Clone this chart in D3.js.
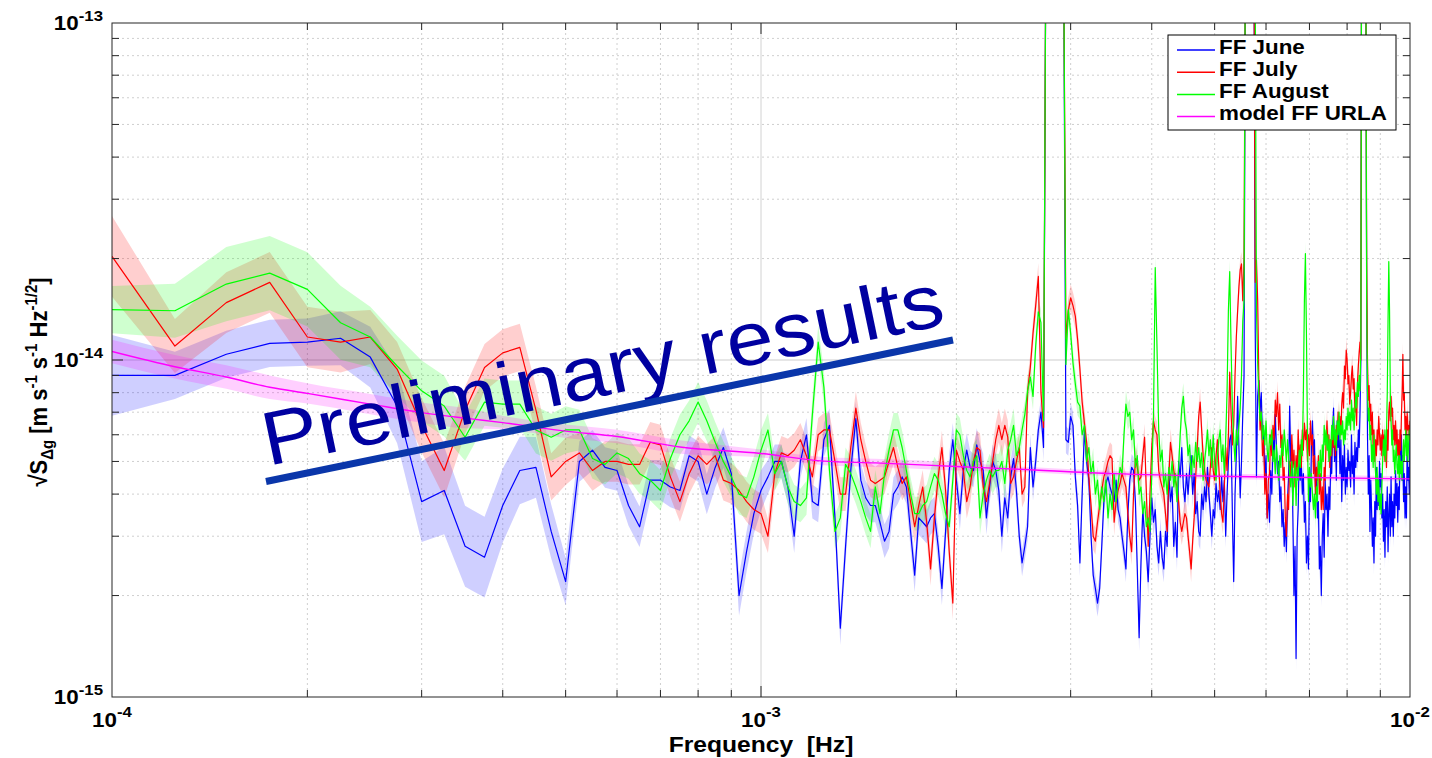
<!DOCTYPE html>
<html>
<head>
<meta charset="utf-8">
<script src="https://cdn.jsdelivr.net/npm/d3@7"></script>
<style>
  body { margin: 0; background: #fff; }
  svg { display: block; }
  text { font-family: "Liberation Sans", Arial, Helvetica, sans-serif; }
</style>
</head>
<body>
<svg id="chart" width="1432" height="758"></svg>
<script>
// Frequency grid: bins k * 25 µHz, k = 4 … 400
const binWidth = 2.5e-5;
const firstBin = 4, lastBin = 400;
const asdUnit = 1e-16; // series below are in units of 1e-16 m s^-2 Hz^-1/2

const juneASD = [
  90,90,104,112,113,116,102,73,38,41,
  28,26,37,47,48,31,22,50,54,48,
  47,37,32,44,44,42,41,52,50,40,
  48,55,46,20,27,35,41,45,50,50,
  42,30,50,60,38,37,58,64,34,16,
  28,47,67,44,39,37,37,33,29,31,
  40,42,45,42,31,23,34,33,32,34,
  35,28,21,31,47,58,44,35,47,54,
  48,47,56,50,47,34,42,50,47,41,
  30,39,34,45,51,41,30,25,28,32,
  55,42,50,62,70,55,2500,6000,9000,12000,
  10000,8000,5000,2000,58,57,68,64,45,37,
  25,40,62,50,44,30,23,21,19,21,
  28,38,43,45,42,40,38,44,36,34,
  30,27,24,35,44,48,47,38,24,15,
  25,36,30,27,22,30,39,33,36,28,
  25,31,26,24,31,28,46,38,42,28,
  33,26,50,45,55,42,38,46,40,47,
  52,40,46,35,38,31,30,40,36,42,
  38,48,40,35,30,36,34,43,38,41,
  36,45,38,44,30,40,50,58,60,35,
  22,40,52,78,55,39,50,69,90,1500,
  4000,8000,9000,7000,5000,3000,1500,120,45,78,
  87,70,80,58,62,45,52,34,40,33,
  47,40,59,52,69,55,46,50,38,42,
  32,36,28,33,27,38,45,73,50,56,
  34,20,28,13,30,36,52,44,50,40,
  46,33,38,25,30,24,44,38,56,66,
  52,58,42,48,34,38,24,28,20,30,
  35,26,44,36,40,30,42,36,52,46,
  62,72,50,60,44,66,55,62,46,58,
  38,52,44,56,40,48,42,54,47,50,
  42,60,46,52,40,57,48,55,50,62,
  55,70,100,3000,8000,9000,7000,4000,1500,150,
  60,40,52,31,44,36,28,34,25,38,
  30,48,36,44,37,50,42,46,34,40,
  29,36,26,38,32,42,27,35,40,30,
  45,32,38,30,40,34,47,37,43,33,
  42,36,56,48,60,44,52,38,46,34,
  42,34,56,44,48,40,58
];

const julyASD = [
  203,110,148,170,117,113,117,94,64,47,
  71,95,105,109,71,45,50,53,47,50,
  50,49,49,57,56,45,38,46,52,49,
  52,44,43,41,38,36,35,30,46,53,
  52,54,58,52,45,60,62,62,50,40,
  40,55,72,58,50,44,43,44,45,50,
  55,48,43,45,38,32,37,42,33,24,
  34,45,55,41,27,19,54,50,47,38,
  42,50,55,54,42,38,43,50,58,64,
  58,64,59,43,45,50,55,40,42,81,
  95,120,145,177,80,63,2500,6000,9000,12000,
  10000,8000,5000,2000,116,140,153,145,135,115,
  94,75,65,57,45,37,30,29,33,37,
  41,45,47,50,52,51,33,38,41,43,
  46,44,42,35,30,27,40,51,48,44,
  45,52,59,40,28,40,55,66,62,60,
  47,44,42,40,35,31,45,57,52,47,
  44,42,38,33,31,33,35,34,30,27,
  24,29,34,45,55,68,75,62,52,47,
  44,43,42,48,55,47,44,52,58,48,
  40,35,33,42,55,47,60,92,70,56,
  64,90,117,140,165,185,193,150,200,1500,
  4000,8000,9000,7000,5000,3000,1500,170,198,150,
  86,62,70,52,58,40,46,34,44,46,
  60,52,64,58,76,68,80,62,74,55,
  60,44,48,34,30,40,36,50,44,60,
  48,54,42,52,46,62,50,56,48,62,
  54,65,58,62,50,60,52,66,56,60,
  46,52,40,48,44,52,40,46,36,42,
  36,48,44,58,66,54,60,48,58,52,
  63,55,60,52,64,58,70,62,68,60,
  74,80,72,96,88,107,100,85,90,74,
  80,90,96,82,88,70,76,64,85,96,
  105,113,100,3000,8000,9000,7000,4000,1500,200,
  100,76,84,66,74,60,70,54,62,50,
  58,52,62,56,68,60,54,60,52,62,
  54,60,50,56,48,62,54,70,75,66,
  78,68,72,58,64,56,66,56,62,52,
  58,48,62,54,68,80,104,76,80,62,
  68,56,70,62,64,58,66
];

const augustASD = [
  141,140,168,181,162,129,117,96,81,73,
  59,75,74,74,62,59,62,62,51,49,
  53,51,46,44,41,51,60,66,75,66,
  57,50,45,40,39,45,54,62,46,50,
  42,38,37,39,69,113,83,47,31,34,
  49,46,42,38,34,31,42,35,46,54,
  62,62,55,47,40,35,35,37,38,42,
  46,44,40,35,32,44,62,60,52,47,
  45,50,52,34,40,44,47,45,47,47,
  50,43,54,58,64,52,55,62,69,81,
  89,78,110,139,129,66,2500,6000,9000,12000,
  10000,8000,5000,2000,97,141,120,98,85,75,
  73,60,64,50,55,46,50,40,44,36,
  42,38,44,34,40,36,46,38,43,48,
  46,60,74,68,70,58,62,48,52,40,
  42,35,38,32,34,31,45,68,188,110,
  62,50,54,42,46,40,48,44,50,42,
  46,38,48,60,72,78,66,62,52,56,
  45,52,48,57,50,55,48,53,44,50,
  55,62,52,58,48,60,50,44,52,58,
  62,50,56,46,58,80,140,183,110,72,
  58,50,62,56,64,72,90,130,150,1500,
  4000,8000,9000,7000,5000,3000,1500,1200,141,98,
  78,66,70,58,64,56,66,54,50,60,
  56,62,50,54,46,56,50,44,52,48,
  58,52,62,56,50,58,52,46,42,50,
  37,46,50,37,48,44,54,48,58,52,
  80,150,207,120,60,38,48,42,46,40,
  36,40,34,42,38,50,46,54,44,56,
  50,64,56,62,54,60,50,58,52,64,
  58,68,56,62,54,66,60,70,58,64,
  60,66,56,62,58,68,62,72,64,70,
  62,76,66,72,62,70,80,72,86,78,
  90,81,110,3000,8000,9000,7000,4000,1500,150,
  81,66,72,58,64,50,56,48,60,52,
  46,40,48,38,44,36,40,35,42,50,
  58,52,62,50,60,80,130,196,140,80,
  66,56,62,50,54,46,52,56,48,46,
  52,44,52,46,50,44,52,58,50,56,
  62,52,60,50,56,62,58
];

// Model noise curve (FF URLA), sampled at a few bins
const modelBins = [4,5,6,7,8,10,12,14,16,20,24,30,40,50,60,80,100,140,200,280,400];
const modelASD  = [106,95.5,89,83,79.6,74,69.8,67.2,65.2,61.5,59.3,55.2,52.8,50.1,49.5,48.3,47.4,46,45.2,44.8,44.4];

// Uncertainty half-widths (decades), as [from bin, half-width] steps
const juneBand   = [[4,0.12],[5,0.07],[9,0.08],[10,0.09],[11,0.11],[12,0.12],[13,0.13],[14,0.12],[16,0.11],[17,0.10],[18,0.09],[19,0.08],[20,0.07],[21,0.06],[41,0.05],[100,0.04],[200,0.035]];
const julyBand   = [[4,0.12],[5,0.08],[6,0.09],[10,0.08],[14,0.07],[21,0.06],[41,0.05],[100,0.04],[200,0.035]];
const augustBand = [[4,0.07],[5,0.08],[6,0.11],[10,0.09],[14,0.07],[21,0.06],[41,0.05],[100,0.04],[200,0.035]];
const modelBand  = [[4,0.035],[8,0.03],[16,0.02],[40,0.012],[100,0.008]];

const seriesNames  = ["FF June", "FF July", "FF August", "model FF URLA"];
const seriesColors = ["#0000ff", "#ff0000", "#00ff00", "#ff00ff"];

const xTickExps = [-4, -3, -2];
const yTickExps = [-15, -14, -13];

// ---------------------------------------------------------------
const svg = d3.select("#chart");
const plot = { left: 112, right: 1410, top: 23, bottom: 697 };

const x = d3.scaleLog().domain([1e-4, 1e-2]).range([plot.left, plot.right]);
const y = d3.scaleLog().domain([1e-15, 1e-13]).range([plot.bottom, plot.top]);

const bins = d3.range(firstBin, lastBin + 1);
const freqOf = k => k * binWidth;

function halfWidthAt(steps, k) {
  let w = steps[0][1];
  for (const [k0, v] of steps) if (k >= k0) w = v;
  return w;
}

function makeSeries(binList, values, steps) {
  return binList.map((k, i) => {
    const v = values[i] * asdUnit;
    const h = Math.pow(10, halfWidthAt(steps, k));
    return { f: freqOf(k), v, lo: v / h, hi: v * h };
  });
}

const data = [
  makeSeries(bins, juneASD, juneBand),
  makeSeries(bins, julyASD, julyBand),
  makeSeries(bins, augustASD, augustBand),
  makeSeries(modelBins, modelASD, modelBand)
];

svg.append("rect").attr("width", 1432).attr("height", 758).attr("fill", "#fff");

svg.append("defs").append("clipPath").attr("id", "plotClip")
  .append("rect")
  .attr("x", plot.left).attr("y", plot.top)
  .attr("width", plot.right - plot.left).attr("height", plot.bottom - plot.top);

// Grid
const grid = svg.append("g");
const xMinor = [], yMinor = [];
for (const d of [1e-4, 1e-3]) for (let m = 2; m <= 9; m++) xMinor.push(m * d);
for (const d of [1e-15, 1e-14]) for (let m = 2; m <= 9; m++) yMinor.push(m * d);
const xMajor = [1e-3], yMajor = [1e-14];

grid.selectAll(".gxm").data(xMinor).join("line")
  .attr("x1", d => x(d)).attr("x2", d => x(d))
  .attr("y1", plot.top).attr("y2", plot.bottom)
  .attr("stroke", "#cfcfcf").attr("stroke-width", 1).attr("stroke-dasharray", "2,3");
grid.selectAll(".gym").data(yMinor).join("line")
  .attr("y1", d => y(d)).attr("y2", d => y(d))
  .attr("x1", plot.left).attr("x2", plot.right)
  .attr("stroke", "#cfcfcf").attr("stroke-width", 1).attr("stroke-dasharray", "2,3");
grid.selectAll(".gxM").data(xMajor).join("line")
  .attr("x1", d => x(d)).attr("x2", d => x(d))
  .attr("y1", plot.top).attr("y2", plot.bottom)
  .attr("stroke", "#d2d2d2").attr("stroke-width", 1);
grid.selectAll(".gyM").data(yMajor).join("line")
  .attr("y1", d => y(d)).attr("y2", d => y(d))
  .attr("x1", plot.left).attr("x2", plot.right)
  .attr("stroke", "#cdcdcd").attr("stroke-width", 1);

// Bands and lines
const layer = svg.append("g").attr("clip-path", "url(#plotClip)");

const area = d3.area()
  .x(d => x(d.f)).y0(d => y(d.lo)).y1(d => y(d.hi));
const line = d3.line()
  .x(d => x(d.f)).y(d => y(d.v));
const smoothLine = d3.line()
  .x(d => x(d.f)).y(d => y(d.v)).curve(d3.curveMonotoneX);
const smoothArea = d3.area()
  .x(d => x(d.f)).y0(d => y(d.lo)).y1(d => y(d.hi)).curve(d3.curveMonotoneX);

data.forEach((s, i) => {
  layer.append("path").datum(s)
    .attr("d", i === 3 ? smoothArea : area)
    .attr("fill", seriesColors[i]).attr("fill-opacity", 0.19).attr("stroke", "none");
});
data.forEach((s, i) => {
  layer.append("path").datum(s)
    .attr("d", i === 3 ? smoothLine : line)
    .attr("fill", "none").attr("stroke", seriesColors[i])
    .attr("stroke-width", i === 3 ? 1.4 : 1.2)
    .attr("stroke-linejoin", "round");
});

// Frame and ticks
const axes = svg.append("g").attr("stroke", "#262626").attr("stroke-width", 1);
axes.append("rect")
  .attr("x", plot.left).attr("y", plot.top)
  .attr("width", plot.right - plot.left).attr("height", plot.bottom - plot.top)
  .attr("fill", "none");

const minorLen = 7, majorLen = 11;
const xTicks = xMinor.map(v => ({ v, len: minorLen })).concat(xMajor.map(v => ({ v, len: majorLen })));
const yTicks = yMinor.map(v => ({ v, len: minorLen })).concat(yMajor.map(v => ({ v, len: majorLen })));

xTicks.forEach(t => {
  const px = x(t.v);
  axes.append("line").attr("x1", px).attr("x2", px).attr("y1", plot.bottom).attr("y2", plot.bottom - t.len);
  axes.append("line").attr("x1", px).attr("x2", px).attr("y1", plot.top).attr("y2", plot.top + t.len);
});
yTicks.forEach(t => {
  const py = y(t.v);
  axes.append("line").attr("y1", py).attr("y2", py).attr("x1", plot.left).attr("x2", plot.left + t.len);
  axes.append("line").attr("y1", py).attr("y2", py).attr("x1", plot.right).attr("x2", plot.right - t.len);
});

// Tick labels (10^n)
const labels = svg.append("g").attr("fill", "#000").style("font-weight", "bold");

function powerLabel(px, py, exp, anchor, supDy) {
  const t = labels.append("text")
    .attr("transform", `translate(${px},${py}) scale(1.12,1)`)
    .attr("text-anchor", anchor)
    .style("font-size", "20px");
  t.append("tspan").text("10");
  t.append("tspan").attr("dy", supDy).style("font-size", "15px").text(String(exp));
}

xTickExps.forEach(e => powerLabel(x(Math.pow(10, e)), 727, e, "middle", -10));
yTickExps.forEach(e => powerLabel(103, y(Math.pow(10, e)) + 7, e, "end", -9));

// Axis titles
labels.append("text")
  .attr("transform", "translate(761,752) scale(1.12,1)")
  .attr("text-anchor", "middle")
  .style("font-size", "22px")
  .text("Frequency\u00a0 [Hz]");

const yTitle = labels.append("text")
  .attr("transform", "translate(47,382) rotate(-90) scale(1,1.12)")
  .attr("text-anchor", "middle")
  .style("font-size", "22px");
yTitle.append("tspan").text("\u221AS");
yTitle.append("tspan").attr("dy", 5).style("font-size", "15px").text("\u0394g");
yTitle.append("tspan").attr("dy", -5).text(" [m s");
yTitle.append("tspan").attr("dy", -9).style("font-size", "15px").text("-1");
yTitle.append("tspan").attr("dy", 9).text(" s");
yTitle.append("tspan").attr("dy", -9).style("font-size", "15px").text("-1");
yTitle.append("tspan").attr("dy", 9).text(" Hz");
yTitle.append("tspan").attr("dy", -9).style("font-size", "15px").text("-1/2");
yTitle.append("tspan").attr("dy", 9).text("]");

// Overlay
svg.append("text")
  .attr("transform", "translate(268,466) rotate(-11.8)")
  .attr("textLength", 694).attr("lengthAdjust", "spacingAndGlyphs")
  .attr("fill", "#0000a0")
  .style("font-size", "76px")
  .text("Preliminary results");
svg.append("line")
  .attr("x1", 266).attr("y1", 481.5).attr("x2", 953).attr("y2", 340)
  .attr("stroke", "#0a36aa").attr("stroke-width", 7);

// Legend
const legend = svg.append("g");
legend.append("rect")
  .attr("x", 1168).attr("y", 35).attr("width", 228).attr("height", 95)
  .attr("fill", "#fff").attr("stroke", "#000").attr("stroke-width", 1);
const legendY = [50, 72.2, 94.4, 116.6];
seriesNames.forEach((name, i) => {
  legend.append("line")
    .attr("x1", 1177).attr("x2", 1215).attr("y1", legendY[i]).attr("y2", legendY[i])
    .attr("stroke", seriesColors[i]).attr("stroke-width", 1.5);
  legend.append("text")
    .attr("transform", `translate(1219,${legendY[i] + 3.5}) scale(1.12,1)`)
    .style("font-size", "20px").style("font-weight", "bold")
    .text(name);
});
</script>
</body>
</html>
